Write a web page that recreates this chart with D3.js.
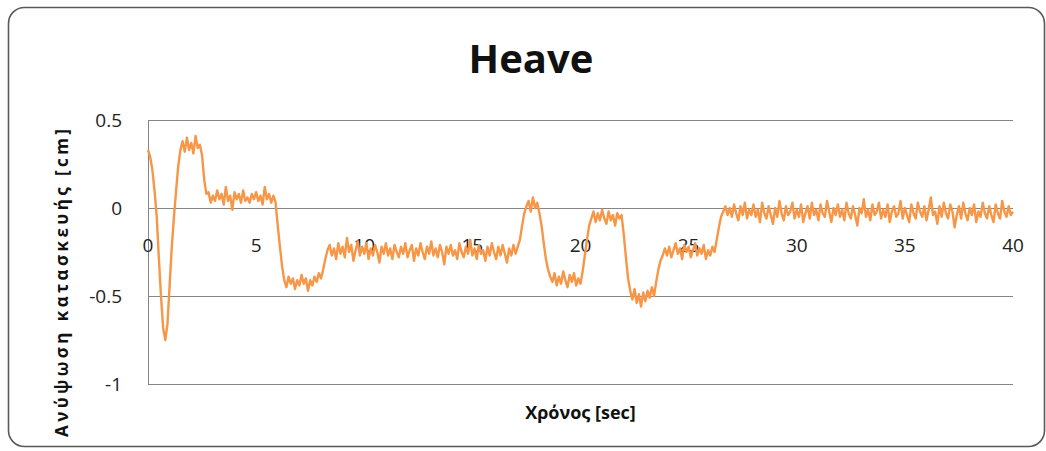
<!DOCTYPE html>
<html>
<head>
<meta charset="utf-8">
<script src="https://cdn.jsdelivr.net/npm/d3@7"></script>
<style>
  html, body { margin: 0; padding: 0; background: #fff; }
  svg { display: block; font-family: "Open Sans", "Noto Sans", sans-serif; }
</style>
</head>
<body>
<div class="graph"></div>
<script>
// heave signal, sampled every 0.1 s, one row per second (values in cm)
const SAMPLE_STEP = 0.1;
const heave = [
  0.33, 0.29, 0.22, 0.10, -0.04, -0.28, -0.50, -0.68, -0.75, -0.66,
  -0.44, -0.22, -0.05, 0.10, 0.24, 0.33, 0.38, 0.32, 0.40, 0.33,
  0.37, 0.31, 0.41, 0.34, 0.36, 0.30, 0.16, 0.08, 0.09, 0.03,
  0.07, 0.04, 0.10, 0.05, 0.08, 0.02, 0.12, 0.04, 0.07, -0.01,
  0.09, 0.05, 0.08, 0.03, 0.10, 0.04, 0.06, 0.03, 0.08, 0.05,
  0.09, 0.04, 0.07, 0.02, 0.12, 0.05, 0.08, 0.03, 0.07, 0.03,
  -0.10, -0.22, -0.33, -0.41, -0.45, -0.39, -0.43, -0.40, -0.46, -0.41,
  -0.44, -0.38, -0.43, -0.40, -0.47, -0.41, -0.44, -0.39, -0.42, -0.37,
  -0.40, -0.35, -0.29, -0.24, -0.21, -0.27, -0.23, -0.29, -0.20, -0.26,
  -0.22, -0.28, -0.17, -0.25, -0.21, -0.30, -0.24, -0.19, -0.27, -0.22,
  -0.26, -0.20, -0.29, -0.23, -0.27, -0.21, -0.25, -0.31, -0.22, -0.26,
  -0.20, -0.27, -0.23, -0.29, -0.21, -0.25, -0.28, -0.22, -0.26, -0.20,
  -0.28, -0.24, -0.21, -0.30, -0.23, -0.27, -0.20, -0.25, -0.29, -0.22,
  -0.26, -0.19, -0.27, -0.23, -0.28, -0.21, -0.25, -0.32, -0.22, -0.26,
  -0.21, -0.27, -0.24, -0.29, -0.20, -0.25, -0.28, -0.22, -0.26, -0.18,
  -0.27, -0.23, -0.29, -0.21, -0.26, -0.24, -0.30, -0.22, -0.27, -0.20,
  -0.25, -0.29, -0.22, -0.27, -0.21, -0.26, -0.31, -0.23, -0.27, -0.21,
  -0.26, -0.22, -0.18, -0.10, -0.03, 0.01, 0.04, -0.02, 0.06, 0.00,
  0.03, -0.03, -0.10, -0.20, -0.29, -0.35, -0.39, -0.42, -0.37, -0.44,
  -0.39, -0.43, -0.36, -0.41, -0.45, -0.38, -0.42, -0.37, -0.44, -0.40,
  -0.43, -0.36, -0.27, -0.18, -0.10, -0.06, -0.02, -0.08, -0.03, -0.07,
  -0.01, -0.06, -0.09, -0.02, -0.07, -0.04, -0.10, -0.03, -0.06, -0.04,
  -0.15, -0.28, -0.40, -0.47, -0.52, -0.46, -0.54, -0.49, -0.56, -0.48,
  -0.53, -0.47, -0.51, -0.45, -0.50, -0.42, -0.35, -0.30, -0.27, -0.23,
  -0.27, -0.22, -0.28, -0.24, -0.20, -0.26, -0.23, -0.29, -0.21, -0.25,
  -0.22, -0.28, -0.24, -0.20, -0.27, -0.23, -0.26, -0.21, -0.29, -0.24,
  -0.27, -0.22, -0.25, -0.18, -0.11, -0.05, -0.02, 0.01, -0.04, 0.00,
  -0.05, 0.02, -0.03, -0.07, 0.01, -0.04, 0.03, -0.06, -0.01, -0.04,
  0.02, -0.05, -0.01, -0.08, 0.03, -0.03, -0.06, 0.01, -0.04, -0.09,
  0.00, -0.05, 0.04, -0.03, -0.07, 0.01, -0.04, -0.02, 0.03, -0.06,
  -0.01, -0.05, 0.02, -0.08, -0.03, 0.01, -0.06, 0.03, -0.04, -0.01,
  -0.07, 0.02, -0.03, -0.05, 0.04, -0.02, -0.08, 0.00, -0.04, 0.02,
  -0.05, -0.01, -0.07, 0.03, -0.03, -0.06, 0.01, -0.04, -0.10, 0.00,
  -0.03, 0.05, -0.05, -0.01, -0.07, 0.02, -0.04, -0.02, 0.03, -0.06,
  -0.01, -0.05, 0.02, -0.08, -0.02, 0.01, -0.05, -0.03, 0.04, -0.06,
  0.00, -0.04, -0.08, 0.02, -0.03, -0.06, 0.03, -0.02, -0.05, 0.01,
  -0.07, -0.01, 0.06, -0.04, -0.02, -0.09, 0.01, -0.05, 0.03, -0.03,
  -0.06, 0.02, -0.02, -0.11, -0.04, 0.01, -0.06, 0.03, -0.03, -0.07,
  0.00, -0.04, 0.02, -0.08, -0.02, -0.05, 0.03, -0.03, -0.06, 0.01,
  -0.04, -0.08, 0.02, -0.03, -0.06, 0.04, -0.02, -0.05, 0.01, -0.04,
  -0.02,
];

const xTicks = [0, 5, 10, 15, 20, 25, 30, 35, 40];
const yTicks = [0.5, 0, -0.5, -1];
const title = "Heave";
const xTitle = "Χρόνος [sec]";
const yTitle = "Ανύψωση κατασκευής [cm]";

// Specify the dimensions of the chart.
const width = 1046;
const height = 451;
const plot = { left: 148, right: 1013, top: 120, bottom: 384 };
const lineColor = "#F79646";
const gridColor = "#868686";

const x = d3.scaleLinear().domain([0, 40]).range([plot.left, plot.right]);
const y = d3.scaleLinear().domain([-1, 0.5]).range([plot.bottom, plot.top]);

const svg = d3
  .select(".graph")
  .append("svg")
  .attr("width", width)
  .attr("height", height)
  .attr("viewBox", [0, 0, width, height]);

// outer chart frame
svg
  .append("rect")
  .attr("x", 8.5)
  .attr("y", 7.5)
  .attr("width", 1036)
  .attr("height", 439)
  .attr("rx", 16)
  .attr("fill", "#fff")
  .attr("stroke", "#595959")
  .attr("stroke-width", 1.6);

// horizontal gridlines (the 0 line doubles as x axis)
svg
  .append("g")
  .selectAll()
  .data(yTicks)
  .join("line")
  .attr("x1", plot.left)
  .attr("x2", plot.right)
  .attr("y1", (d) => Math.round(y(d)) + 0.5)
  .attr("y2", (d) => Math.round(y(d)) + 0.5)
  .attr("stroke", gridColor)
  .attr("stroke-width", 1);

// left axis line
svg
  .append("line")
  .attr("x1", plot.left + 0.5)
  .attr("x2", plot.left + 0.5)
  .attr("y1", plot.top)
  .attr("y2", plot.bottom)
  .attr("stroke", gridColor);

// y tick labels (plain hyphen, like the original)
svg
  .append("g")
  .selectAll()
  .data(yTicks)
  .join("text")
  .attr("x", 122)
  .attr("y", (d) => y(d))
  .attr("dy", "0.35em")
  .attr("text-anchor", "end")
  .attr("font-size", 19)
  .attr("fill", "#222")
  .text((d) => String(d));

// x tick labels, sitting under the zero line
svg
  .append("g")
  .selectAll()
  .data(xTicks)
  .join("text")
  .attr("x", (d) => x(d))
  .attr("y", y(0) + 37)
  .attr("dy", "0.35em")
  .attr("text-anchor", "middle")
  .attr("font-size", 19)
  .attr("fill", "#222")
  .text((d) => d);

// the signal
const line = d3
  .line()
  .x((d, i) => x(i * SAMPLE_STEP))
  .y((d) => y(d));

svg
  .append("path")
  .datum(heave)
  .attr("fill", "none")
  .attr("stroke", lineColor)
  .attr("stroke-width", 2.4)
  .attr("stroke-linejoin", "round")
  .attr("d", line);

// titles
svg
  .append("text")
  .attr("x", 531)
  .attr("y", 73)
  .attr("text-anchor", "middle")
  .attr("font-size", 40)
  .attr("font-weight", "bold")
  .attr("fill", "#111")
  .text(title);

svg
  .append("text")
  .attr("x", (plot.left + plot.right) / 2)
  .attr("y", 419)
  .attr("text-anchor", "middle")
  .attr("font-size", 18)
  .attr("font-weight", "bold")
  .attr("fill", "#111")
  .text(xTitle);

svg
  .append("text")
  .attr("transform", "translate(68,283) rotate(-90)")
  .attr("text-anchor", "middle")
  .attr("font-size", 17)
  .attr("font-weight", "bold")
  .attr("fill", "#111")
  .attr("textLength", 308)
  .attr("lengthAdjust", "spacing")
  .text(yTitle);
</script>
</body>
</html>
